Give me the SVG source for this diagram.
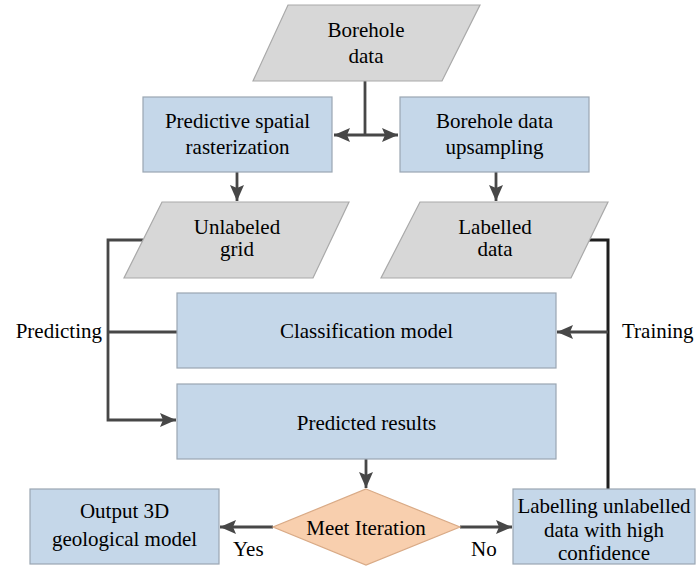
<svg xmlns="http://www.w3.org/2000/svg" width="696" height="566" viewBox="0 0 696 566">
<defs>
<marker id="arr" markerUnits="userSpaceOnUse" markerWidth="16" markerHeight="14" viewBox="0 0 16 14" refX="16" refY="7" orient="auto-start-reverse">
<path d="M0,0 L16,7 L0,14 L3,7 z" fill="#474747"/>
</marker>
</defs>
<rect width="696" height="566" fill="#ffffff"/>
<g id="connectors" fill="none" stroke="#474747" stroke-width="2.8">
<path d="M365,81 V135"/>
<path d="M334,135 H398" marker-start="url(#arr)" marker-end="url(#arr)"/>
<path d="M237,172 V201" marker-end="url(#arr)"/>
<path d="M496,172 V201" marker-end="url(#arr)"/>
<path d="M143,240 H108 V420 H176" marker-end="url(#arr)"/>
<path d="M177,332 H108"/>
<path d="M589,240 H608 V489" stroke="#1e1e1e" stroke-width="3"/>
<path d="M608,332 H557" marker-end="url(#arr)"/>
<path d="M366,459 V488" marker-end="url(#arr)"/>
<path d="M273,527 H220" marker-end="url(#arr)"/>
<path d="M460,527 H512" marker-end="url(#arr)"/>
</g>
<g id="borehole-data">
<polygon fill="#d7d7d7" stroke="#a9a9a9" stroke-width="1.2" points="288,5 480,5 442,81 253,81"/>
<text font-family="Times New Roman, Liberation Serif, serif" font-size="21" text-anchor="middle" x="366" y="37">Borehole</text>
<text font-family="Times New Roman, Liberation Serif, serif" font-size="21" text-anchor="middle" x="366" y="63">data</text>
</g>
<g id="predictive-spatial-rasterization">
<rect fill="#c5d7e9" stroke="#9aa6b2" stroke-width="1.2" x="143" y="97" width="189" height="75"/>
<text font-family="Times New Roman, Liberation Serif, serif" font-size="21" text-anchor="middle" x="237.5" y="128">Predictive spatial</text>
<text font-family="Times New Roman, Liberation Serif, serif" font-size="21" text-anchor="middle" x="237.5" y="154">rasterization</text>
</g>
<g id="borehole-data-upsampling">
<rect fill="#c5d7e9" stroke="#9aa6b2" stroke-width="1.2" x="400" y="97" width="189" height="75"/>
<text font-family="Times New Roman, Liberation Serif, serif" font-size="21" text-anchor="middle" x="494.5" y="128">Borehole data</text>
<text font-family="Times New Roman, Liberation Serif, serif" font-size="21" text-anchor="middle" x="494.5" y="154">upsampling</text>
</g>
<g id="unlabeled-grid">
<polygon fill="#d7d7d7" stroke="#a9a9a9" stroke-width="1.2" points="162,202 349,202 313,278 124,278"/>
<text font-family="Times New Roman, Liberation Serif, serif" font-size="21" text-anchor="middle" x="237" y="234">Unlabeled</text>
<text font-family="Times New Roman, Liberation Serif, serif" font-size="21" text-anchor="middle" x="237" y="256">grid</text>
</g>
<g id="labelled-data">
<polygon fill="#d7d7d7" stroke="#a9a9a9" stroke-width="1.2" points="420,202 608,202 571,278 381,278"/>
<text font-family="Times New Roman, Liberation Serif, serif" font-size="21" text-anchor="middle" x="495" y="234">Labelled</text>
<text font-family="Times New Roman, Liberation Serif, serif" font-size="21" text-anchor="middle" x="495" y="256">data</text>
</g>
<g id="classification-model">
<rect fill="#c5d7e9" stroke="#9aa6b2" stroke-width="1.2" x="177" y="293" width="379" height="75"/>
<text font-family="Times New Roman, Liberation Serif, serif" font-size="21" text-anchor="middle" x="366.5" y="338">Classification model</text>
</g>
<g id="predicted-results">
<rect fill="#c5d7e9" stroke="#9aa6b2" stroke-width="1.2" x="177" y="384" width="379" height="75"/>
<text font-family="Times New Roman, Liberation Serif, serif" font-size="21" text-anchor="middle" x="366.5" y="430">Predicted results</text>
</g>
<g id="meet-iteration">
<polygon fill="#f8cfae" stroke="#d9aa86" stroke-width="1.2" points="366,489 460,527 366,565 273,527"/>
<text font-family="Times New Roman, Liberation Serif, serif" font-size="21" text-anchor="middle" x="366" y="535">Meet Iteration</text>
</g>
<g id="output-3d-geological-model">
<rect fill="#c5d7e9" stroke="#9aa6b2" stroke-width="1.2" x="30" y="489" width="189" height="75"/>
<text font-family="Times New Roman, Liberation Serif, serif" font-size="21" text-anchor="middle" x="124.5" y="518">Output 3D</text>
<text font-family="Times New Roman, Liberation Serif, serif" font-size="21" text-anchor="middle" x="124.5" y="546">geological model</text>
</g>
<g id="labelling-unlabelled">
<rect fill="#c5d7e9" stroke="#9aa6b2" stroke-width="1.2" x="513" y="489" width="182" height="75"/>
<text font-family="Times New Roman, Liberation Serif, serif" font-size="21" text-anchor="middle" x="604" y="513">Labelling unlabelled</text>
<text font-family="Times New Roman, Liberation Serif, serif" font-size="21" text-anchor="middle" x="604" y="537">data with high</text>
<text font-family="Times New Roman, Liberation Serif, serif" font-size="21" text-anchor="middle" x="604" y="560">confidence</text>
</g>
<g id="labels">
<text font-family="Times New Roman, Liberation Serif, serif" font-size="21" text-anchor="end" x="102" y="338">Predicting</text>
<text font-family="Times New Roman, Liberation Serif, serif" font-size="21" x="622" y="338">Training</text>
<text font-family="Times New Roman, Liberation Serif, serif" font-size="21" x="233" y="556">Yes</text>
<text font-family="Times New Roman, Liberation Serif, serif" font-size="21" x="471" y="556">No</text>
</g>
</svg>
